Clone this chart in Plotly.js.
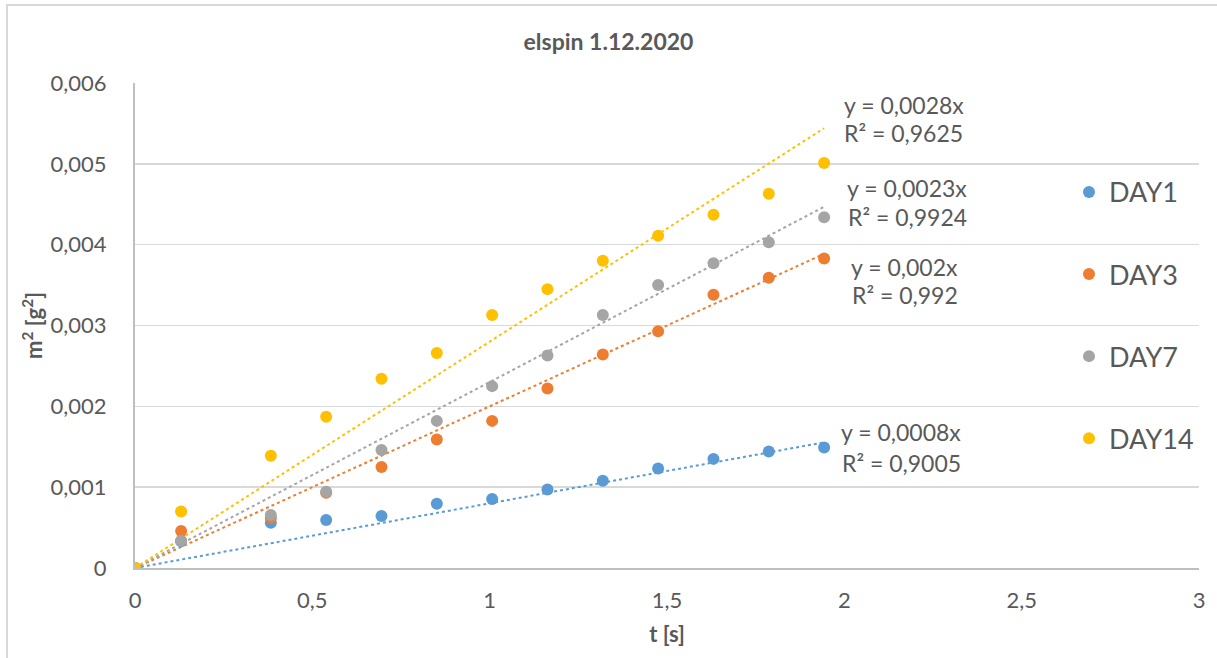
<!DOCTYPE html>
<html>
<head>
<meta charset="utf-8">
<script src="https://cdn.plot.ly/plotly-3.0.1.min.js"></script>
<style>html,body{margin:0;padding:0;background:#fff;}#chart{width:1217px;height:658px;}</style>
</head>
<body>
<div id="chart"></div>
<script>
const seriesNames = ["DAY1", "DAY3", "DAY7", "DAY14"];
const tValues = [0, 0.13, 0.383, 0.539, 0.695, 0.851, 1.007, 1.163, 1.319, 1.475, 1.631, 1.787, 1.943];
const day1 = [0, 0.00033, 0.00056, 0.000594, 0.000644, 0.000796, 0.000854, 0.00097, 0.00108, 0.00123, 0.00135, 0.00144, 0.00149];
const day3 = [0, 0.000458, 0.00062, 0.00093, 0.00125, 0.00159, 0.00182, 0.00222, 0.00264, 0.00293, 0.00338, 0.00359, 0.00383];
const day7 = [0, 0.000338, 0.000656, 0.000944, 0.00146, 0.00182, 0.00225, 0.00263, 0.00313, 0.0035, 0.00377, 0.00403, 0.00434];
const day14 = [0, 0.0007, 0.00139, 0.00187, 0.00234, 0.00266, 0.00313, 0.00345, 0.0038, 0.00411, 0.00437, 0.00463, 0.00501];
const slopes = [0.0008, 0.002, 0.0023, 0.0028];
const eqLabels = ["y = 0,0008x", "y = 0,002x", "y = 0,0023x", "y = 0,0028x"];
const r2Labels = ["R² = 0,9005", "R² = 0,992", "R² = 0,9924", "R² = 0,9625"];
const colors = ["#5B9BD5", "#ED7D31", "#A5A5A5", "#FFC000"];

const allSeries = [day1, day3, day7, day14];
const txt = "#595959";
const font = "Lato, 'Open Sans', sans-serif";

const traces = [];
const xEnd = tValues[tValues.length - 1];
// trendlines (through origin, slope from the equation labels)
allSeries.forEach((s, i) => {
  traces.push({
    x: [0, xEnd], y: [0, slopes[i] * xEnd],
    mode: "lines", type: "scatter",
    line: {color: colors[i], width: 2, dash: "dot"},
    showlegend: false, hoverinfo: "skip"
  });
});
// data points
allSeries.forEach((s, i) => {
  traces.push({
    x: tValues, y: s, name: seriesNames[i],
    mode: "markers", type: "scatter",
    marker: {color: colors[i], size: 12},
    legendgroup: "g" + i
  });
});

// equation label placement (data coordinates)
const eqPos = [
  {x: 2.16, yEq: 0.001683, yR: 0.00130},
  {x: 2.171, yEq: 0.003725, yR: 0.00338},
  {x: 2.177, yEq: 0.00470, yR: 0.00434},
  {x: 2.168, yEq: 0.00573, yR: 0.00538}
];
const annotations = [];
allSeries.forEach((s, i) => {
  annotations.push({
    x: eqPos[i].x, y: eqPos[i].yEq, xref: "x", yref: "y",
    text: eqLabels[i], showarrow: false, xanchor: "center", yanchor: "middle",
    font: {family: font, size: 23, color: txt}
  });
  annotations.push({
    x: eqPos[i].x, y: eqPos[i].yR, xref: "x", yref: "y",
    text: r2Labels[i], showarrow: false, xanchor: "center", yanchor: "middle",
    font: {family: font, size: 23, color: txt}
  });
});

const layout = {
  width: 1217, height: 658,
  margin: {l: 135, r: 18, t: 83, b: 90},
  paper_bgcolor: "#fff", plot_bgcolor: "#fff",
  separators: ", ",
  title: {text: "<b>elspin 1.12.2020</b>", x: 0.5, xanchor: "center", y: 0.936, yanchor: "middle",
    font: {family: font, size: 23, color: txt}},
  xaxis: {
    range: [0, 3], dtick: 0.5, tick0: 0, showgrid: false, zeroline: false,
    showline: true, linecolor: "#bfbfbf", linewidth: 2, ticks: "",
    tickfont: {family: font, size: 22, color: txt}, ticklabelstandoff: 12,
    title: {text: "<b>t [s]</b>", font: {family: font, size: 22, color: txt}, standoff: 14}
  },
  yaxis: {
    range: [0, 0.006], dtick: 0.001, tick0: 0, showgrid: true, gridcolor: "#d9d9d9", gridwidth: 1.5,
    zeroline: false, showline: true, linecolor: "#bfbfbf", linewidth: 2, ticks: "",
    tickfont: {family: font, size: 22, color: txt}, ticklabelstandoff: 22,
    title: {text: "<b>m<sup>2</sup> [g<sup>2</sup>]</b>", font: {family: font, size: 22, color: txt}, standoff: 2}
  },
  legend: {
    x: 1.0, xanchor: "right", y: 0.825, yanchor: "top",
    font: {family: font, size: 27, color: txt},
    tracegroupgap: 44, itemwidth: 30, bgcolor: "rgba(0,0,0,0)"
  },
  annotations: annotations,
  shapes: [{
    type: "rect", xref: "paper", yref: "paper",
    x0: (7 - 135) / 1064, x1: 1.2, y0: -0.3, y1: (568 - 5) / 485,
    line: {color: "#d9d9d9", width: 2}, fillcolor: "rgba(0,0,0,0)", layer: "below"
  }],
  showlegend: true
};

Plotly.newPlot("chart", traces, layout, {displayModeBar: false, staticPlot: true});
</script>
</body>
</html>
